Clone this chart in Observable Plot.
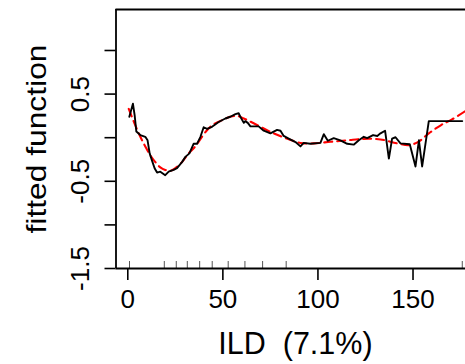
<!DOCTYPE html>
<html><head><meta charset="utf-8">
<script src="https://cdn.jsdelivr.net/npm/d3@7"></script>
<script src="https://cdn.jsdelivr.net/npm/@observablehq/plot@0.6"></script>
<style>
html,body{margin:0;padding:0;background:#fff;overflow:hidden}
svg text{white-space:pre}
</style></head><body><div id="chart"></div>
<script>
// fitted (partial residual) function, black solid
const ildX = [0.8, 2.7, 3.6, 4.5, 6.6, 9.2, 10.4, 11.5, 12.7, 14.1, 15.4, 17.1, 19.7, 21.5, 24.1, 25.9, 28.5, 30.3, 32.4, 34.6, 36.4, 38.2, 39.9, 41.7, 44.3, 47.8, 51.3, 53.9, 56.6, 58.3, 59.2, 61.0, 61.8, 63.1, 64.5, 68.8, 71.5, 75.0, 78.5, 80.3, 82.0, 84.6, 88.2, 90.8, 92.5, 96.0, 101.3, 103.1, 105.2, 108.3, 111.8, 115.4, 118.8, 121.5, 124.1, 125.9, 129.0, 131.2, 132.9, 135.3, 137.3, 139.0, 140.8, 143.4, 148.3, 151.3, 153.1, 154.8, 158.3, 175.9];
const fitY = [0.24, 0.39, 0.26, 0.07, 0.03, 0.01, -0.03, -0.18, -0.26, -0.35, -0.40, -0.39, -0.43, -0.39, -0.37, -0.35, -0.28, -0.22, -0.18, -0.07, -0.07, 0.01, 0.12, 0.10, 0.125, 0.18, 0.22, 0.24, 0.27, 0.28, 0.24, 0.17, 0.19, 0.17, 0.13, 0.13, 0.08, 0.05, 0.09, 0.08, 0.02, -0.01, -0.05, -0.10, -0.06, -0.07, -0.06, 0.04, -0.035, -0.005, -0.03, -0.07, -0.08, -0.03, 0.01, -0.005, 0.03, 0.02, 0.05, 0.08, -0.24, -0.01, 0.005, -0.065, -0.075, -0.33, -0.03, -0.33, 0.19, 0.19];
// smooth fit, red dashed
const smoothX = [0.5, 3.9, 6.6, 9.2, 11.8, 14.5, 17.1, 19.7, 22.4, 25.0, 28.5, 32.0, 35.5, 39.0, 42.5, 46.0, 49.6, 53.9, 57.5, 61.0, 66.2, 71.5, 76.7, 82.0, 90.8, 97.8, 106.6, 115.4, 124.1, 132.9, 141.7, 148.0, 153.0, 158.3, 164.8, 170.5, 177.5];
const smoothY = [0.33, 0.145, 0.01, -0.10, -0.20, -0.28, -0.34, -0.37, -0.38, -0.35, -0.28, -0.18, -0.10, 0.01, 0.105, 0.165, 0.20, 0.24, 0.25, 0.22, 0.165, 0.105, 0.05, 0.003, -0.06, -0.065, -0.047, -0.03, -0.013, -0.02, -0.065, -0.085, -0.045, 0.05, 0.145, 0.21, 0.305];
// rug of observed ILD values (deciles)
const rugX = [0.9, 19.2, 25.5, 31.3, 37.8, 44.4, 52.8, 61.6, 70.9, 83.3, 175.9];
const xTicks = [0, 50, 100, 150];
const yTicks = [-1.5, -1, -0.5, 0, 0.5, 1];
const yTickLabels = ["-1.5", "-0.5", "0.5"];
const xDomain = [-6.2, 177.6];
const yDomain = [-1.5, 1.47];
const xLabel = "ILD  (7.1%)";
const yLabel = "fitted function";

const fitted = ildX.map((x, i) => ({x, y: fitY[i]}));
const smooth = smoothX.map((x, i) => ({x, y: smoothY[i]}));

const W = 465, H = 364, mT = 9, mB = 96, mL = 115.5, mR = 0;
const innerH = H - mT - mB;

const chart = Plot.plot({
  width: W, height: H,
  marginTop: mT, marginBottom: mB, marginLeft: mL, marginRight: mR,
  style: {fontFamily: "'Liberation Sans', Arial, sans-serif", background: "#fff", color: "#000"},
  x: {domain: xDomain},
  y: {domain: yDomain},
  marks: [
    Plot.ruleX(rugX, {x: d => d, insetTop: innerH - 7, stroke: "#555", strokeWidth: 1}),
    Plot.line(smooth, {x: "x", y: "y", stroke: "#ff0000", strokeWidth: 2.1, strokeDasharray: "8,5", curve: "catmull-rom"}),
    Plot.line(fitted, {x: "x", y: "y", stroke: "#000", strokeWidth: 1.9}),
    Plot.ruleX([xDomain[0]], {stroke: "#000", strokeWidth: 1.8}),
    Plot.ruleY([yDomain[0]], {stroke: "#000", strokeWidth: 1.8}),
    Plot.ruleY([yDomain[1]], {stroke: "#000", strokeWidth: 1.8}),
    Plot.axisX({ticks: xTicks, tickSize: 12, tickPadding: 9, fontSize: 26, label: null, strokeWidth: 1.6, tickFormat: d => String(d)}),
    Plot.axisY({ticks: yTicks, tickSize: 11, tickFormat: () => "", label: null, strokeWidth: 1.6}),
    Plot.text(yTickLabels, {frameAnchor: "left", y: d => +d, text: d => d, rotate: -90, dx: -27, lineAnchor: "bottom", textAnchor: "middle", fontSize: 26}),
    Plot.text([yLabel], {frameAnchor: "left", text: d => d, rotate: -90, dx: -70.5, lineAnchor: "bottom", textAnchor: "middle", fontSize: 28}),
    Plot.text([xLabel], {frameAnchor: "bottom", text: d => d, dx: 4.7, dy: 85.3, lineAnchor: "bottom", textAnchor: "middle", fontSize: 30.5})
  ]
});
document.getElementById("chart").appendChild(chart);
// stretch y-label to the reference's length
d3.select(chart).selectAll("text").filter(function() { return this.textContent === yLabel; })
  .attr("textLength", 189).attr("lengthAdjust", "spacingAndGlyphs");
</script></body></html>
